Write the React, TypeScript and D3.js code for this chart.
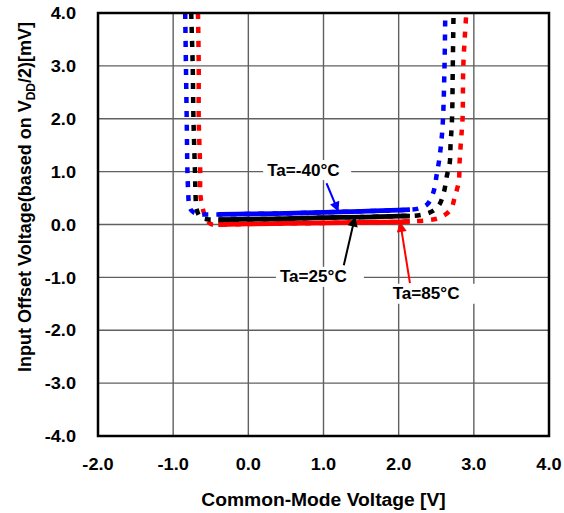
import React from "react";
import * as d3 from "d3";

const X_TICKS = [-2, -1, 0, 1, 2, 3, 4];
const Y_TICKS = [-4, -3, -2, -1, 0, 1, 2, 3, 4];
const X_TICK_LABELS = ["-2.0", "-1.0", "0.0", "1.0", "2.0", "3.0", "4.0"];
const Y_TICK_LABELS = ["-4.0", "-3.0", "-2.0", "-1.0", "0.0", "1.0", "2.0", "3.0", "4.0"];

const SERIES_NAMES = ["Ta=85°C", "Ta=25°C", "Ta=-40°C"];
const SERIES_COLORS = ["#ff0000", "#000000", "#0000ff"];

const RED_X = [-0.67, -0.66, -0.66, -0.64, -0.64, -0.62, -0.59, -0.55, -0.5, -0.4, 0.0, 0.5, 1.0, 1.5, 2.0, 2.15, 2.38, 2.55, 2.69, 2.75, 2.8, 2.81, 2.83, 2.85, 2.86, 2.9];
const RED_Y = [4.0, 3.0, 2.0, 1.0, 0.6, 0.38, 0.22, 0.08, 0.01, 0.0, 0.01, 0.02, 0.03, 0.04, 0.05, 0.06, 0.08, 0.13, 0.28, 0.54, 0.82, 1.17, 1.6, 2.0, 3.0, 4.0];

const BLACK_X = [-0.76, -0.74, -0.73, -0.71, -0.7, -0.69, -0.64, -0.55, -0.4, 0.0, 0.5, 1.0, 1.5, 2.0, 2.15, 2.29, 2.42, 2.53, 2.6, 2.64, 2.68, 2.69, 2.71, 2.72, 2.73];
const BLACK_Y = [4.0, 3.0, 2.0, 1.0, 0.47, 0.3, 0.14, 0.1, 0.09, 0.1, 0.11, 0.13, 0.14, 0.16, 0.16, 0.18, 0.23, 0.35, 0.6, 0.91, 1.17, 1.5, 2.0, 3.0, 4.0];

const BLUE_X = [-0.84, -0.83, -0.82, -0.81, -0.8, -0.79, -0.76, -0.7, -0.6, -0.4, 0.0, 0.5, 1.0, 1.5, 2.0, 2.15, 2.26, 2.38, 2.46, 2.51, 2.54, 2.57, 2.59, 2.61, 2.62];
const BLUE_Y = [4.0, 3.0, 2.0, 1.0, 0.6, 0.4, 0.27, 0.21, 0.19, 0.19, 0.2, 0.21, 0.23, 0.25, 0.27, 0.28, 0.3, 0.38, 0.6, 0.98, 1.23, 1.6, 2.0, 3.0, 4.0];

const SOLID_FROM = -0.4;
const SOLID_TO = 2.15;

// annotations (data coordinates)
const ANN_LABELS = ["Ta=-40°C", "Ta=25°C", "Ta=85°C"];
const ANN_COLORS = ["#0000ff", "#000000", "#ff0000"];
const ANN_TEXT_X = [0.25, 0.42, 1.92];
const ANN_TEXT_Y = [1.03, -0.99, -1.31];
const ANN_FROM_X = [1.04, 1.27, 2.15];
const ANN_FROM_Y = [0.78, -0.77, -1.11];
const ANN_TO_X = [1.2, 1.42, 2.02];
const ANN_TO_Y = [0.24, 0.15, 0.05];

const W = 564;
const H = 513;
const M = { left: 98, right: 15, top: 13, bottom: 77 };
const FONT = "'Liberation Sans', Arial, Helvetica, sans-serif";
const SX = 1.07;

export default function App() {
  const x = d3.scaleLinear().domain([-2, 4]).range([M.left, W - M.right]);
  const y = d3.scaleLinear().domain([-4, 4]).range([H - M.bottom, M.top]);

  const series = [
    { xs: RED_X, ys: RED_Y },
    { xs: BLACK_X, ys: BLACK_Y },
    { xs: BLUE_X, ys: BLUE_Y },
  ].map((s, i) => ({
    name: SERIES_NAMES[i],
    color: SERIES_COLORS[i],
    pts: s.xs.map((v, j) => [v, s.ys[j]] as [number, number]),
  }));

  const line = d3
    .line<[number, number]>()
    .x((d) => x(d[0]))
    .y((d) => y(d[1]))
    .curve(d3.curveCatmullRom.alpha(0.5));

  const x0 = x(-2), x1 = x(4), y0 = y(4), y1 = y(-4);

  return (
    <svg
      width={W}
      height={H}
      style={{ position: "absolute", left: 0, top: 0, background: "#fff" }}
      fontFamily={FONT}
    >
      <defs>
        <clipPath id="plotclip">
          <rect x={x0} y={y0} width={x1 - x0} height={y1 - y0} />
        </clipPath>
        {ANN_COLORS.map((c, i) => (
          <marker
            key={i}
            id={`arrow${i}`}
            viewBox="0 0 10 10"
            refX={10}
            refY={5}
            markerWidth={12}
            markerHeight={10}
            markerUnits="userSpaceOnUse"
            orient="auto"
          >
            <path d="M0,0 L10,5 L0,10 Z" fill={c} />
          </marker>
        ))}
      </defs>
      <rect x={0} y={0} width={W} height={H} fill="#fff" />
      {/* grid */}
      <g stroke="#606060" strokeWidth={1.4}>
        {X_TICKS.slice(1, -1).map((t) => (
          <line key={"gx" + t} x1={x(t)} x2={x(t)} y1={y0} y2={y1} />
        ))}
        {Y_TICKS.slice(1, -1).map((t) => (
          <line key={"gy" + t} x1={x0} x2={x1} y1={y(t)} y2={y(t)} />
        ))}
      </g>
      {/* annotation white boxes */}
      {ANN_LABELS.map((l, i) => (
        <rect
          key={"box" + i}
          x={x(ANN_TEXT_X[i]) - 4}
          y={y(ANN_TEXT_Y[i]) - 10}
          width={88}
          height={20}
          fill="#fff"
        />
      ))}
      {/* series */}
      <g clipPath="url(#plotclip)">
        {series.map((s) => (
          <g key={s.name}>
            <path
              d={line(s.pts) || ""}
              fill="none"
              stroke={s.color}
              strokeWidth={4.5}
              strokeDasharray="6 8"
            />
            <path
              d={line(s.pts.filter((p) => p[0] >= SOLID_FROM && p[0] <= SOLID_TO)) || ""}
              fill="none"
              stroke={s.color}
              strokeWidth={4.8}
            />
          </g>
        ))}
      </g>
      {/* frame */}
      <rect x={x0} y={y0} width={x1 - x0} height={y1 - y0} fill="none" stroke="#000" strokeWidth={2.5} />
      {/* annotations */}
      {ANN_LABELS.map((l, i) => (
        <g key={"ann" + i}>
          <text
            transform={`translate(${x(ANN_TEXT_X[i])},${y(ANN_TEXT_Y[i])}) scale(${SX},1)`}
            dy="0.35em"
            fontSize={16}
            fontWeight="bold"
            fill="#000"
          >
            {l}
          </text>
          <line
            x1={x(ANN_FROM_X[i])}
            y1={y(ANN_FROM_Y[i])}
            x2={x(ANN_TO_X[i])}
            y2={y(ANN_TO_Y[i])}
            stroke={ANN_COLORS[i]}
            strokeWidth={2}
            markerEnd={`url(#arrow${i})`}
          />
        </g>
      ))}
      {/* y tick labels */}
      {Y_TICKS.map((t, i) => (
        <text
          key={"yt" + t}
          transform={`translate(76,${y(t)}) scale(${SX},1)`}
          dy="0.36em"
          textAnchor="end"
          fontSize={17}
          fontWeight="bold"
        >
          {Y_TICK_LABELS[i]}
        </text>
      ))}
      {/* x tick labels */}
      {X_TICKS.map((t, i) => (
        <text
          key={"xt" + t}
          transform={`translate(${x(t)},470) scale(${SX},1)`}
          textAnchor="middle"
          fontSize={17}
          fontWeight="bold"
        >
          {X_TICK_LABELS[i]}
        </text>
      ))}
      {/* axis titles */}
      <text
        transform={`translate(${(x0 + x1) / 2},506) scale(${SX},1)`}
        textAnchor="middle"
        fontSize={18}
        fontWeight="bold"
      >
        Common-Mode Voltage [V]
      </text>
      <text
        transform={`translate(31,197) rotate(-90)`}
        textAnchor="middle"
        fontSize={18}
        fontWeight="bold"
      >
        Input Offset Voltage(based on V
        <tspan fontSize={12} dy={4}>DD</tspan>
        <tspan dy={-4}>/2)[mV]</tspan>
      </text>
    </svg>
  );
}
